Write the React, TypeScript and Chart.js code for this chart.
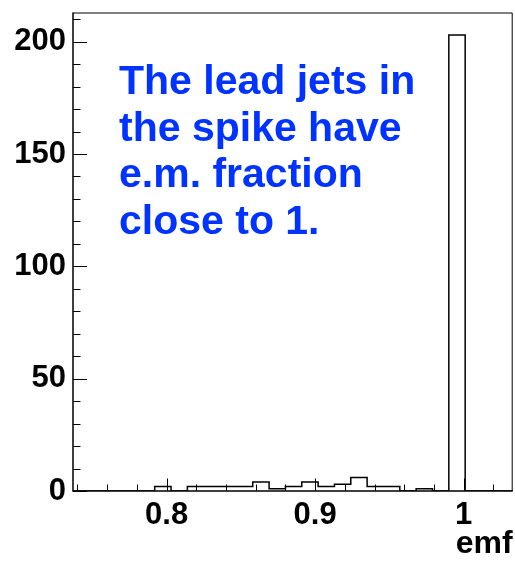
import React, { useEffect, useRef } from "react";
import { Chart, registerables } from "chart.js";

Chart.register(...registerables);

// Histogram bin lower edges (bin width 0.011) and counts
const binLow = [0.726, 0.737, 0.748, 0.759, 0.77, 0.781, 0.792, 0.803, 0.814, 0.825, 0.836, 0.847, 0.858, 0.869, 0.88, 0.891, 0.902, 0.913, 0.924, 0.935, 0.946, 0.957, 0.968, 0.979, 0.99, 1.001, 1.012, 1.023, 1.034];
const counts = [0, 0, 0, 0, 0, 0, 2, 0, 2, 2, 2, 2, 4, 1, 2, 4, 2, 3, 6, 2, 2, 0, 1, 0, 203, 0, 0, 0, 0];

const xMajorTicks = [0.8, 0.9, 1.0];
const xMinorTicks = [0.74, 0.76, 0.78, 0.82, 0.84, 0.86, 0.88, 0.92, 0.94, 0.96, 0.98, 1.02];
const yMajorTicks = [0, 50, 100, 150, 200];
const yMinorTicks = [10, 20, 30, 40, 60, 70, 80, 90, 110, 120, 130, 140, 160, 170, 180, 190, 210];

const noteLines = ["The lead jets in", "the spike have", "e.m. fraction", "close to 1."];
const xTitle = "emf";

const X_MIN = 0.737;
const X_MAX = 1.033;
const Y_MAX = 213;

const FONT = "'Liberation Sans', Arial, Helvetica, sans-serif";

export default function App() {
  const ref = useRef<HTMLCanvasElement | null>(null);

  useEffect(() => {
    if (!ref.current) return;
    const data = binLow.map((x, i) => ({ x, y: counts[i] }));

    const decor = {
      id: "decor",
      afterDatasetsDraw(chart: any) {
        const { ctx, chartArea: a, scales } = chart;
        const xs = scales.x;
        const ys = scales.y;
        ctx.save();
        ctx.strokeStyle = "#000";
        ctx.lineWidth = 1;
        ctx.beginPath();
        ctx.moveTo(a.left, a.top + 0.5);
        ctx.lineTo(a.right - 0.5, a.top + 0.5);
        ctx.lineTo(a.right - 0.5, a.bottom);
        ctx.stroke();
        ctx.lineWidth = 1.5;
        ctx.beginPath();
        ctx.moveTo(a.left, a.top);
        ctx.lineTo(a.left, a.bottom);
        ctx.lineTo(a.right, a.bottom);
        ctx.stroke();
        ctx.lineWidth = 1;
        ctx.beginPath();
        yMajorTicks.forEach((v) => {
          const p = Math.round(ys.getPixelForValue(v)) + 0.5;
          ctx.moveTo(a.left, p);
          ctx.lineTo(a.left + 14, p);
        });
        yMinorTicks.forEach((v) => {
          const p = Math.round(ys.getPixelForValue(v)) + 0.5;
          ctx.moveTo(a.left, p);
          ctx.lineTo(a.left + 7.5, p);
        });
        xMajorTicks.forEach((v) => {
          const p = Math.round(xs.getPixelForValue(v)) + 0.5;
          ctx.moveTo(p, a.bottom);
          ctx.lineTo(p, a.bottom - 12.5);
        });
        xMinorTicks.forEach((v) => {
          const p = Math.round(xs.getPixelForValue(v)) + 0.5;
          ctx.moveTo(p, a.bottom);
          ctx.lineTo(p, a.bottom - 6.5);
        });
        ctx.stroke();
        ctx.fillStyle = "#0033ff";
        ctx.font = `bold 41px ${FONT}`;
        ctx.textAlign = "left";
        ctx.textBaseline = "alphabetic";
        noteLines.forEach((t, i) => {
          ctx.fillText(t, 119, 94 + i * 46.6);
        });
        ctx.restore();
      },
    };

    const chart = new Chart(ref.current, {
      type: "line",
      data: {
        datasets: [
          {
            data,
            stepped: "before",
            borderColor: "#000",
            borderWidth: 1.5,
            pointRadius: 0,
            fill: false,
            tension: 0,
          },
        ],
      },
      options: {
        responsive: false,
        animation: false,
        layout: { padding: { top: 12.5, right: 2.3, left: 0, bottom: 0 } },
        plugins: { legend: { display: false }, tooltip: { enabled: false } },
        scales: {
          x: {
            type: "linear",
            min: X_MIN,
            max: X_MAX,
            grid: { display: false, drawTicks: false },
            border: { display: false },
            afterBuildTicks: (s: any) => {
              s.ticks = xMajorTicks.map((v) => ({ value: v }));
            },
            afterFit: (s: any) => {
              s.height = 73;
              s.paddingLeft = 0;
              s.paddingRight = 0;
            },
            ticks: {
              autoSkip: false,
              maxRotation: 0,
              padding: 6,
              color: "#000",
              font: { family: FONT, size: 31, weight: "bold" },
              callback: (v: any) => String(Math.round(Number(v) * 10) / 10),
            },
            title: {
              display: true,
              text: xTitle,
              align: "end",
              color: "#000",
              padding: { top: 0, bottom: 1 },
              font: { family: FONT, size: 32, weight: "bold" },
            },
          },
          y: {
            type: "linear",
            min: 0,
            max: Y_MAX,
            grid: { display: false, drawTicks: false },
            border: { display: false },
            afterBuildTicks: (s: any) => {
              s.ticks = yMajorTicks.map((v) => ({ value: v }));
            },
            afterFit: (s: any) => {
              s.width = 73;
              s.paddingTop = 0;
              s.paddingBottom = 0;
            },
            ticks: {
              padding: 7,
              color: "#000",
              font: { family: FONT, size: 31, weight: "bold" },
            },
          },
        },
      },
      plugins: [decor],
    } as any);
    return () => chart.destroy();
  }, []);

  return (
    <div style={{ position: "absolute", left: 0, top: 0, width: 515, height: 564, background: "#fff" }}>
      <canvas ref={ref} width={515} height={564} style={{ width: 515, height: 564 }} />
    </div>
  );
}
